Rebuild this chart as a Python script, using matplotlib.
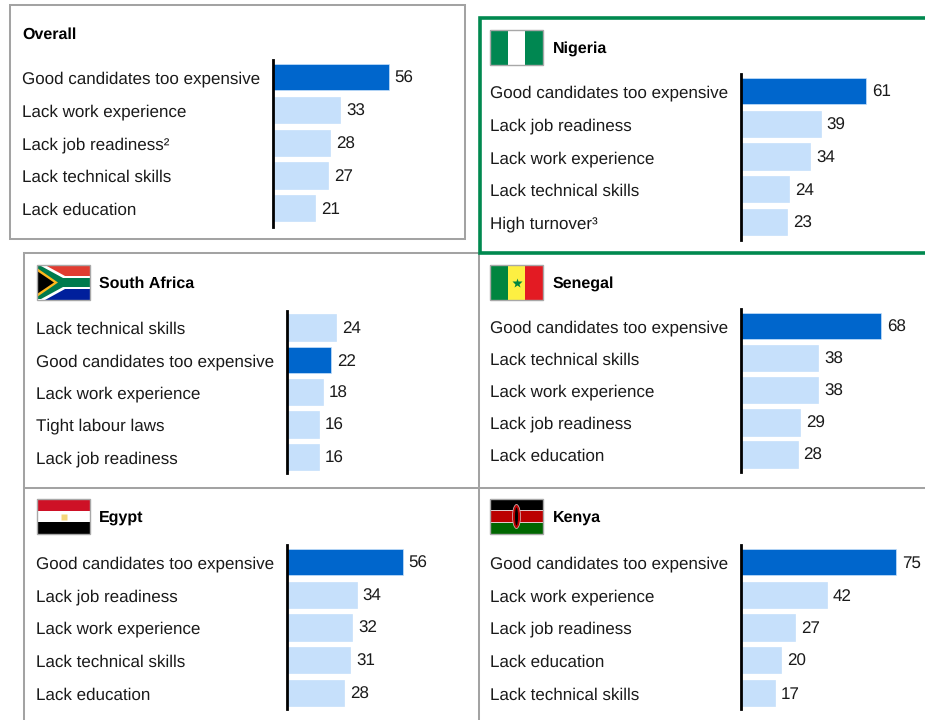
import matplotlib
matplotlib.use("Agg")
import matplotlib.pyplot as plt
from matplotlib.patches import Rectangle, Polygon, Ellipse

plt.rcParams['font.family'] = ['Liberation Sans', 'DejaVu Sans']
plt.rcParams['text.hinting'] = 'no_hinting'
plt.rcParams['text.hinting_factor'] = 1

W, H = 925, 720
PX_PER_UNIT = 2.09
AXIS_SHIFT = 1.5  # bars start a little behind the baseline
BAR_PX = 26.4
DARK = '#0066cc'
LIGHT = '#c6e0fb'
GREY = '#a3a3a3'
GREEN = '#00894f'
TEXT = '#1a1a1a'
HIGHLIGHT = 'Good candidates too expensive'

overall_labels = ['Good candidates too expensive', 'Lack work experience', 'Lack job readiness²', 'Lack technical skills', 'Lack education']
overall_values = [56, 33, 28, 27, 21]
nigeria_labels = ['Good candidates too expensive', 'Lack job readiness', 'Lack work experience', 'Lack technical skills', 'High turnover³']
nigeria_values = [61, 39, 34, 24, 23]
south_africa_labels = ['Lack technical skills', 'Good candidates too expensive', 'Lack work experience', 'Tight labour laws', 'Lack job readiness']
south_africa_values = [24, 22, 18, 16, 16]
senegal_labels = ['Good candidates too expensive', 'Lack technical skills', 'Lack work experience', 'Lack job readiness', 'Lack education']
senegal_values = [68, 38, 38, 29, 28]
egypt_labels = ['Good candidates too expensive', 'Lack job readiness', 'Lack work experience', 'Lack technical skills', 'Lack education']
egypt_values = [56, 34, 32, 31, 28]
kenya_labels = ['Good candidates too expensive', 'Lack work experience', 'Lack job readiness', 'Lack education', 'Lack technical skills']
kenya_values = [75, 42, 27, 20, 17]

fig = plt.figure(figsize=(W / 100, H / 100), dpi=100, facecolor='white')

# Overlay in pixel coordinates for frames and flags
bg = fig.add_axes([0, 0, 1, 1])
bg.set_xlim(0, W)
bg.set_ylim(H, 0)
bg.axis('off')


def frame_line(xs, ys, color=GREY, lw=1.45):
    bg.plot(xs, ys, color=color, lw=lw, solid_capstyle='projecting', zorder=1)


# Draw one bar panel; axis_x, top, bottom give the baseline, first/pitch the rows
def panel(title, labels, values, axis_x, top, bottom, first, pitch, label_x, title_x, title_y):
    ax = fig.add_axes([axis_x / W, 1 - bottom / H, (W - axis_x) / W, (bottom - top) / H])
    ax.patch.set_alpha(0)
    x0 = AXIS_SHIFT / PX_PER_UNIT
    ax.set_xlim(x0, x0 + (W - axis_x) / PX_PER_UNIT)
    ax.set_ylim((bottom - first) / pitch, (top - first) / pitch)
    colors = [DARK if l == HIGHLIGHT else LIGHT for l in labels]
    ax.barh(range(len(values)), values, height=BAR_PX / pitch, color=colors, edgecolor=LIGHT, linewidth=0.5)
    for s in ['top', 'right', 'bottom']:
        ax.spines[s].set_visible(False)
    ax.spines['left'].set_linewidth(2.0)
    ax.spines['left'].set_color('black')
    ax.set_xticks([])
    ax.set_yticks([])
    label_pos = x0 - (axis_x - label_x) / PX_PER_UNIT
    for i, (l, v) in enumerate(zip(labels, values)):
        ax.text(label_pos, i + 2.0 / pitch, l, ha='left', va='center', fontsize=12.15, color=TEXT, clip_on=False)
        ax.text(v + 2.9, i + 1.4 / pitch, str(v), ha='left', va='center', fontsize=12.15, color=TEXT, clip_on=False)
    bg.text(title_x, title_y, title, ha='left', va='center', fontsize=11.8, fontweight='bold', color='black')


def flag_box(x, y, w=53, h=35):
    bg.add_patch(Rectangle((x, y), w, h, fill=False, ec='#a8a8a8', lw=1, zorder=6))


def vstripes(x, y, colors, w=53, h=35):
    for i, c in enumerate(colors):
        bg.add_patch(Rectangle((x + i * w / 3, y), w / 3, h, fc=c, ec='none', zorder=4))


def hstripes(x, y, colors, w=53, h=35):
    for i, c in enumerate(colors):
        bg.add_patch(Rectangle((x, y + i * h / 3), w, h / 3, fc=c, ec='none', zorder=4))


def flag_nigeria(x, y):
    vstripes(x, y, ['#008751', 'white', '#008751'])
    flag_box(x, y)


def flag_senegal(x, y):
    vstripes(x, y, ['#00853f', '#fdef42', '#e31b23'])
    bg.plot([x + 26.5], [y + 17.5], marker='*', ms=7, color='#00853f', mec='none', zorder=5)
    flag_box(x, y)


def flag_egypt(x, y):
    hstripes(x, y, ['#ce1126', 'white', '#000000'])
    bg.plot([x + 26.5], [y + 17.5], marker='s', ms=5, color='#f5d67a', mec='none', zorder=5)
    flag_box(x, y)


def flag_kenya(x, y):
    w, h = 53, 35
    hstripes(x, y, ['black', '#bb0000', '#006600'], w, h)
    for frac in (1 / 3, 2 / 3):
        bg.add_patch(Rectangle((x, y + frac * h - 0.8), w, 1.6, fc='#e0c8c8', ec='none', zorder=4))
    bg.add_patch(Ellipse((x + w / 2, y + h / 2), 8, 24, fc='#bb0000', ec='#d8c8c8', lw=0.5, zorder=5))
    bg.add_patch(Ellipse((x + w / 2, y + h / 2), 3, 18, fc='black', ec='none', zorder=5))
    flag_box(x, y)


def flag_south_africa(x, y):
    w, h = 53, 35
    m = h / 2
    hstripes(x, y, ['#e03c31', 'white', '#001f9c'], w, h)
    bg.add_patch(Polygon([(x, y), (x + 8, y), (x + 28, y + 11), (x + w, y + 11), (x + w, y + 24),
                          (x + 28, y + 24), (x + 8, y + h), (x, y + h)], fc='white', ec='none', zorder=4))
    bg.add_patch(Polygon([(x, y + 1), (x + 4, y + 1), (x + 26, y + 13), (x + w, y + 13), (x + w, y + 22),
                          (x + 26, y + 22), (x + 4, y + h - 1), (x, y + h - 1)], fc='#007a4d', ec='none', zorder=4))
    bg.add_patch(Polygon([(x, y + 3), (x + 21, y + m), (x, y + h - 3)], fc='#ffb81c', ec='none', zorder=5))
    bg.add_patch(Polygon([(x, y + 6), (x + 17, y + m), (x, y + h - 6)], fc='black', ec='none', zorder=5))
    flag_box(x, y)


# Frames
bg.add_patch(Rectangle((10, 5), 455, 234, fill=False, ec=GREY, lw=1.45, zorder=1))
frame_line([24, 24], [253, H])
frame_line([24, 479], [253, 253])
frame_line([479, 479], [253, H])
frame_line([24, W], [488, 488])
bg.plot([W + 5, 479.5, 479.5, W + 5], [17.5, 17.5, 253, 253], color=GREEN, lw=2.6, zorder=2,
        solid_joinstyle='miter')

panel('Overall', overall_labels, overall_values, 273, 60, 227, 77.3, 32.7, 22, 22.5, 35)
panel('Nigeria', nigeria_labels, nigeria_values, 740.5, 74, 240, 91.2, 32.7, 490, 553, 49)
panel('South Africa', south_africa_labels, south_africa_values, 287, 311, 473, 327.5, 32.3, 36, 99, 284)
panel('Senegal', senegal_labels, senegal_values, 740.5, 309, 472, 326, 32.1, 490, 553, 284)
panel('Egypt', egypt_labels, egypt_values, 287, 545, 709, 562, 32.75, 36, 99, 518)
panel('Kenya', kenya_labels, kenya_values, 740.5, 545, 709, 562, 32.75, 490, 553, 518)

flag_nigeria(490, 30)
flag_south_africa(37, 265)
flag_senegal(490, 265)
flag_egypt(37, 499)
flag_kenya(490, 499)

fig.savefig('out.png', dpi=100)
